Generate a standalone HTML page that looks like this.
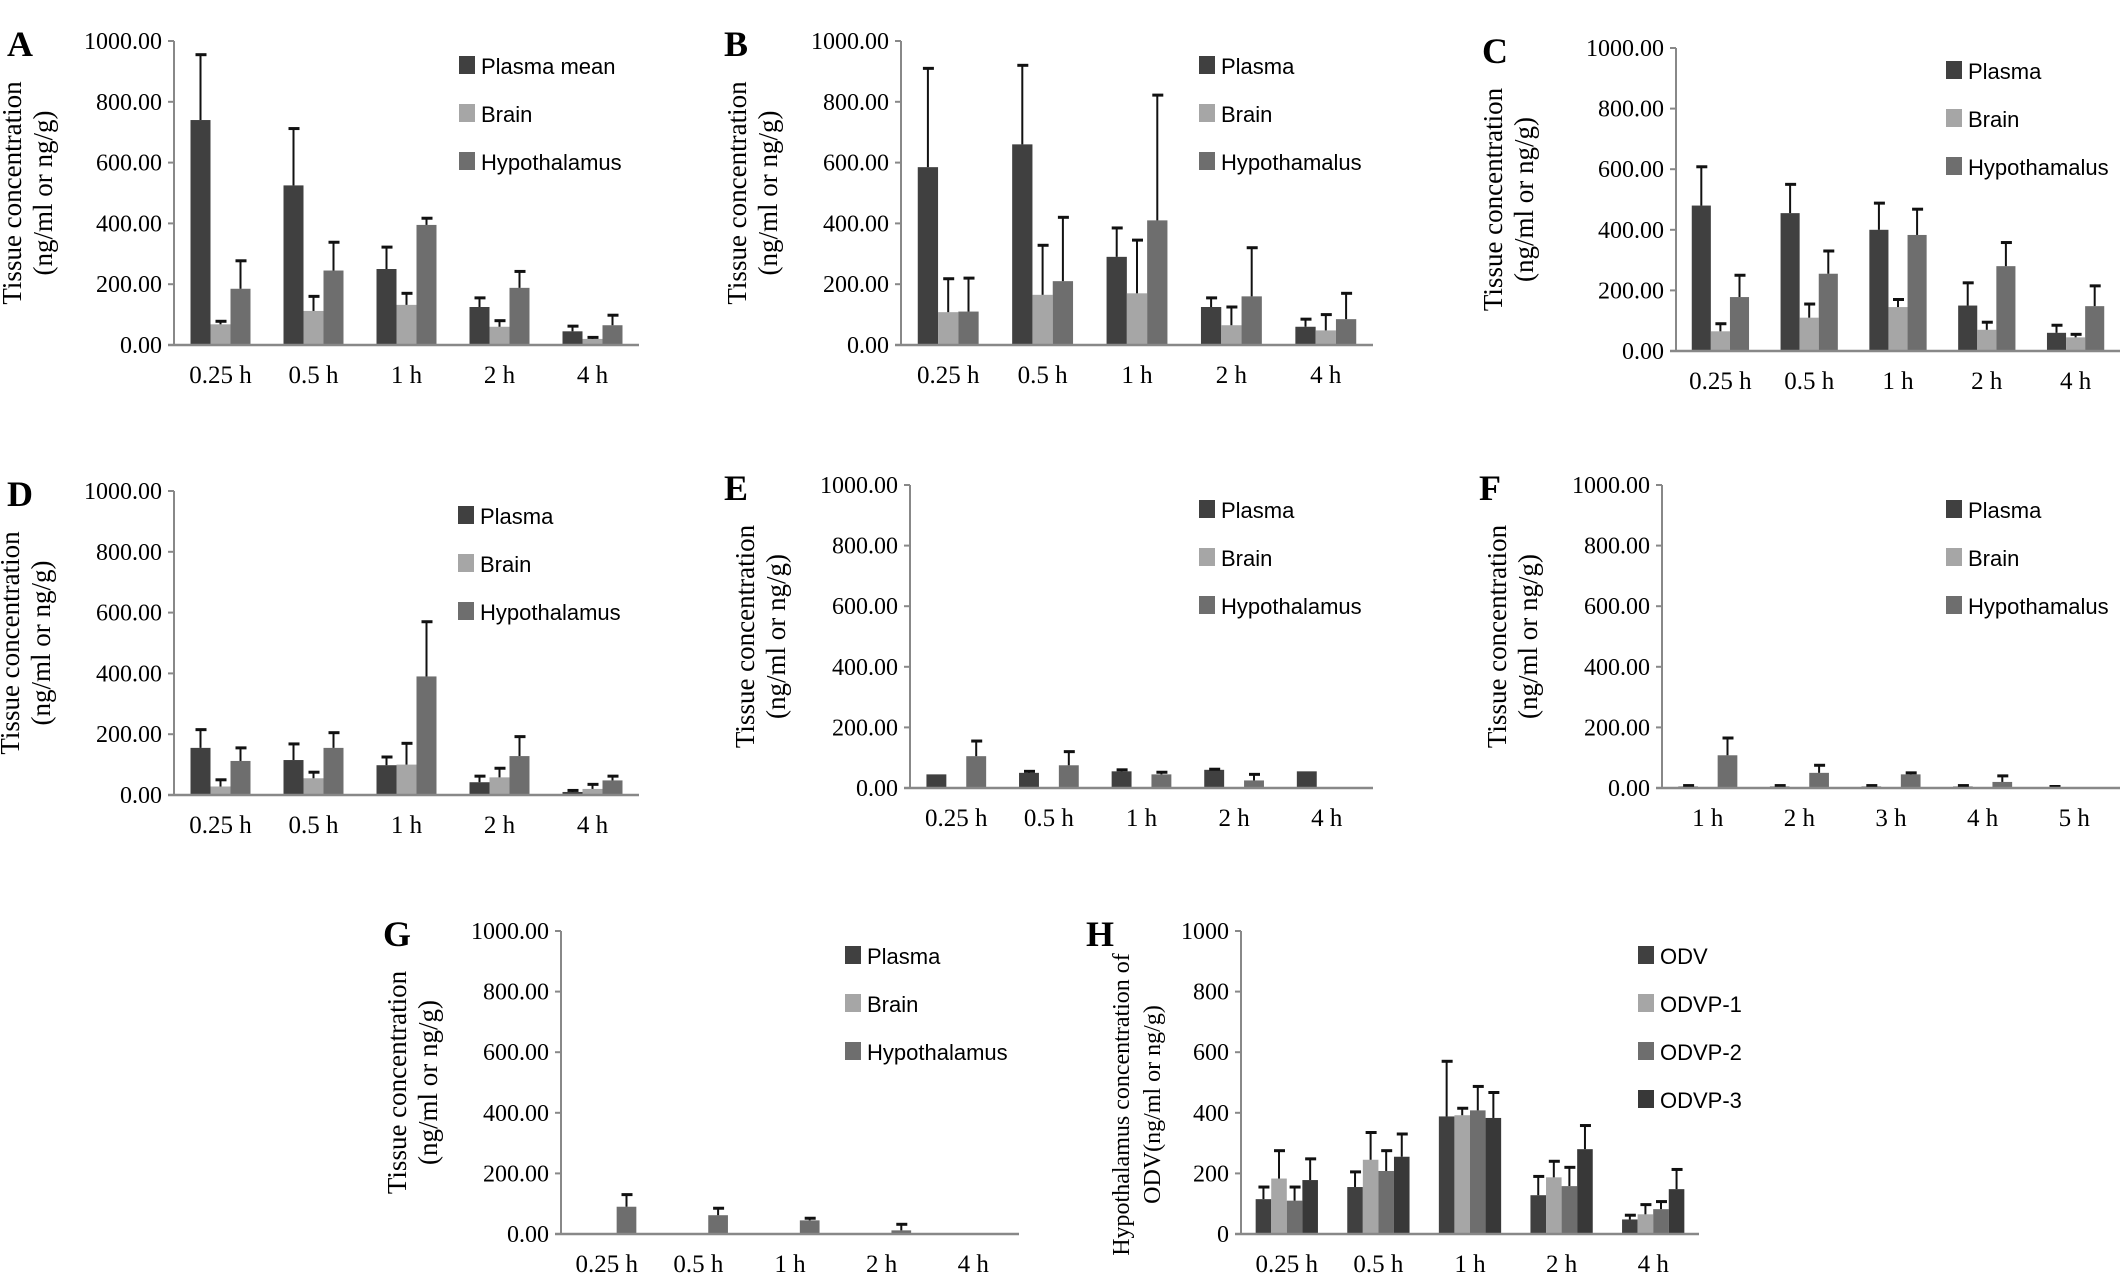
<!DOCTYPE html>
<html><head><meta charset="utf-8"><style>
html,body{margin:0;padding:0;background:#fff;}
svg{display:block;}
</style></head><body>
<svg id="fig" width="2126" height="1280" viewBox="0 0 2126 1280" xmlns="http://www.w3.org/2000/svg"></svg>
<script>
const timeCats = ["0.25 h","0.5 h","1 h","2 h","4 h"];
const hourCats = ["1 h","2 h","3 h","4 h","5 h"];
const seriesNames3A = ["Plasma mean","Brain","Hypothalamus"];
const seriesNames3 = ["Plasma","Brain","Hypothalamus"];
const seriesNames3b = ["Plasma","Brain","Hypothamalus"];
const seriesNamesH = ["ODV","ODVP-1","ODVP-2","ODVP-3"];
const yTicks = ["0.00","200.00","400.00","600.00","800.00","1000.00"];
const yTicksH = ["0","200","400","600","800","1000"];
// values and error-bar tops
const aVals = [[740,525,250,125,45],[68,112,132,60,20],[185,245,395,188,65]];
const aTops = [[955,712,322,155,62],[78,160,170,80,25],[277,338,417,242,98]];
const bVals = [[585,660,290,125,60],[108,165,170,65,48],[110,210,410,160,85]];
const bTops = [[910,920,385,155,85],[218,328,345,125,100],[220,420,822,320,170]];
const cVals = [[480,455,400,150,60],[65,110,145,70,45],[178,255,383,280,148]];
const cTops = [[608,550,488,225,85],[90,155,170,95,55],[250,330,468,358,215]];
const dVals = [[155,115,98,42,10],[28,55,100,58,20],[112,155,390,128,48]];
const dTops = [[215,168,125,62,15],[50,75,170,88,35],[155,205,570,192,62]];
const eVals = [[45,50,55,60,55],[2,2,2,2,2],[105,75,45,25,2]];
const eTops = [[45,55,60,62,55],[2,2,2,2,2],[155,120,52,45,2]];
const fVals = [[5,5,5,5,3],[2,2,2,2,0],[108,50,45,20,0]];
const fTops = [[8,8,8,8,5],[2,2,2,2,0],[165,75,50,40,0]];
const gVals = [[1,1,1,1,0],[1,1,1,1,0],[90,62,45,12,2]];
const gTops = [[1,1,1,1,0],[1,1,1,1,0],[130,85,52,32,2]];
const hVals = [[115,155,388,128,48],[183,245,392,187,65],[110,208,408,158,82],[178,255,383,280,148]];
const hTops = [[155,205,570,190,62],[275,335,415,240,97],[155,275,487,220,107],[248,330,467,358,213]];

const colors3 = ["#404040","#a6a6a6","#6e6e6e"];
const colors4 = ["#404040","#a6a6a6","#6e6e6e","#383838"];
const NS="http://www.w3.org/2000/svg";
const svg=document.getElementById('fig');
function mk(tag,attrs,parent){const e=document.createElementNS(NS,tag);for(const k in attrs)e.setAttribute(k,attrs[k]);(parent||svg).appendChild(e);return e;}

const T1=["Tissue concentration","(ng/ml or ng/g)"];
const panels=[
 {id:"a",L:"A",lo:167,to:153,fs:27,dy:0,x0:174,y0:41,y1:345,x1:639,leg:459,legY:67,cats:timeCats,names:seriesNames3A,vals:aVals,tops:aTops,ticks:yTicks,title:T1},
 {id:"b",L:"B",lo:177,to:155,fs:27,dy:0,x0:901,y0:41,y1:345,x1:1373,leg:1199,legY:67,cats:timeCats,names:seriesNames3b,vals:bVals,tops:bTops,ticks:yTicks,title:T1},
 {id:"c",L:"C",lo:194,to:174,fs:27,dy:0,x0:1676,y0:48,y1:351,x1:2120,leg:1946,legY:72,cats:timeCats,names:seriesNames3b,vals:cVals,tops:cTops,ticks:yTicks,title:T1},
 {id:"d",L:"D",lo:167,to:155,fs:27,dy:0,x0:174,y0:491,y1:795,x1:639,leg:458,legY:517,cats:timeCats,names:seriesNames3,vals:dVals,tops:dTops,ticks:yTicks,title:T1},
 {id:"e",L:"E",lo:186,to:156,fs:27,dy:0,x0:910,y0:485,y1:788,x1:1373,leg:1199,legY:511,cats:timeCats,names:seriesNames3,vals:eVals,tops:eTops,ticks:yTicks,title:T1},
 {id:"f",L:"F",lo:183,to:156,fs:27,dy:0,x0:1662,y0:485,y1:788,x1:2120,leg:1946,legY:511,cats:hourCats,names:seriesNames3b,vals:fVals,tops:fTops,ticks:yTicks,title:T1},
 {id:"g",L:"G",lo:178,to:155,fs:27,dy:0,x0:561,y0:931,y1:1234,x1:1019,leg:845,legY:957,cats:timeCats,names:seriesNames3,vals:gVals,tops:gTops,ticks:yTicks,title:T1},
 {id:"h",L:"H",lo:155,to:112,fs:24,dy:22,x0:1241,y0:931,y1:1234,x1:1699,leg:1638,legY:957,cats:timeCats,names:seriesNamesH,vals:hVals,tops:hTops,ticks:yTicksH,title:["Hypothalamus concentration of","ODV(ng/ml or ng/g)"]}
];

panels.forEach(p=>{
  const g=mk('g',{});
  
  
  const y=v=>p.y1-(v/1000)*(p.y1-p.y0);
  const n=p.vals.length;
  const cw=(p.x1-p.x0)/p.cats.length;
  const bw=n===3?cw*0.215:cw*0.17;
  const letter=mk('text',{x:p.x0-p.lo,y:p.y0+15,'font-family':'Liberation Serif, serif','font-weight':'bold','font-size':36,fill:'#000'},g);
  letter.textContent=p.L;
  
  
  const tt=mk('g',{transform:`translate(${p.x0-p.to},${(p.y0+p.y1)/2+p.dy}) rotate(-90)`},g);
  
  
  p.title.forEach((s,i)=>{const t=mk('text',{x:0,y:i*31,'text-anchor':'middle','font-family':'Liberation Serif, serif','font-size':p.fs,fill:'#000'},tt);t.textContent=s;});
  p.ticks.forEach((s,i)=>{
    const v=i*200;
    mk('line',{x1:p.x0-6,x2:p.x0,y1:y(v),y2:y(v),stroke:'#888','stroke-width':2},g);
    const t=mk('text',{x:p.x0-12,y:y(v)+8,'text-anchor':'end','font-family':'Liberation Serif, serif','font-size':24,fill:'#000'},g);
    t.textContent=s;
    
    
  });
  p.vals.forEach((ser,si)=>{
    const cols=n===3?colors3:colors4;
    ser.forEach((v,ci)=>{
      const bx=p.x0+cw*ci+(cw-bw*n)/2+bw*si;
      const r=mk('rect',{x:bx,y:y(v),width:bw,height:y(0)-y(v),fill:cols[si]},g);
      
      
      const top=p.tops[si][ci];
      if(top>v+1){
        const cx=bx+bw/2;
        mk('line',{x1:cx,x2:cx,y1:y(v),y2:y(top),stroke:'#111','stroke-width':2},g);
        mk('line',{x1:cx-5,x2:cx+6,y1:y(top),y2:y(top),stroke:'#111','stroke-width':3},g);
      }
    });
  });
  const ya=mk('line',{x1:p.x0,x2:p.x0,y1:p.y0,y2:p.y1,stroke:'#888','stroke-width':2},g);
  
  
  const xa=mk('line',{x1:p.x0-6,x2:p.x1,y1:p.y1,y2:p.y1,stroke:'#888','stroke-width':2.5},g);
  
  
  p.cats.forEach((c,ci)=>{
    const t=mk('text',{x:p.x0+cw*(ci+0.5),y:p.y1+38,'text-anchor':'middle','font-family':'Liberation Serif, serif','font-size':25,fill:'#000'},g);
    t.textContent=c;
    
    
  });
  p.names.forEach((nm,si)=>{
    const cols=n===3?colors3:colors4;
    const ly=p.legY+si*48;
    const sw=mk('rect',{x:p.leg,y:ly-11,width:16,height:18,fill:cols[si]},g);
    
    
    const t=mk('text',{x:p.leg+22,y:ly+7,'font-family':'Liberation Sans, sans-serif','font-size':22,fill:'#000'},g);
    t.textContent=nm;
    
    
  });
});
</script>
</body></html>
